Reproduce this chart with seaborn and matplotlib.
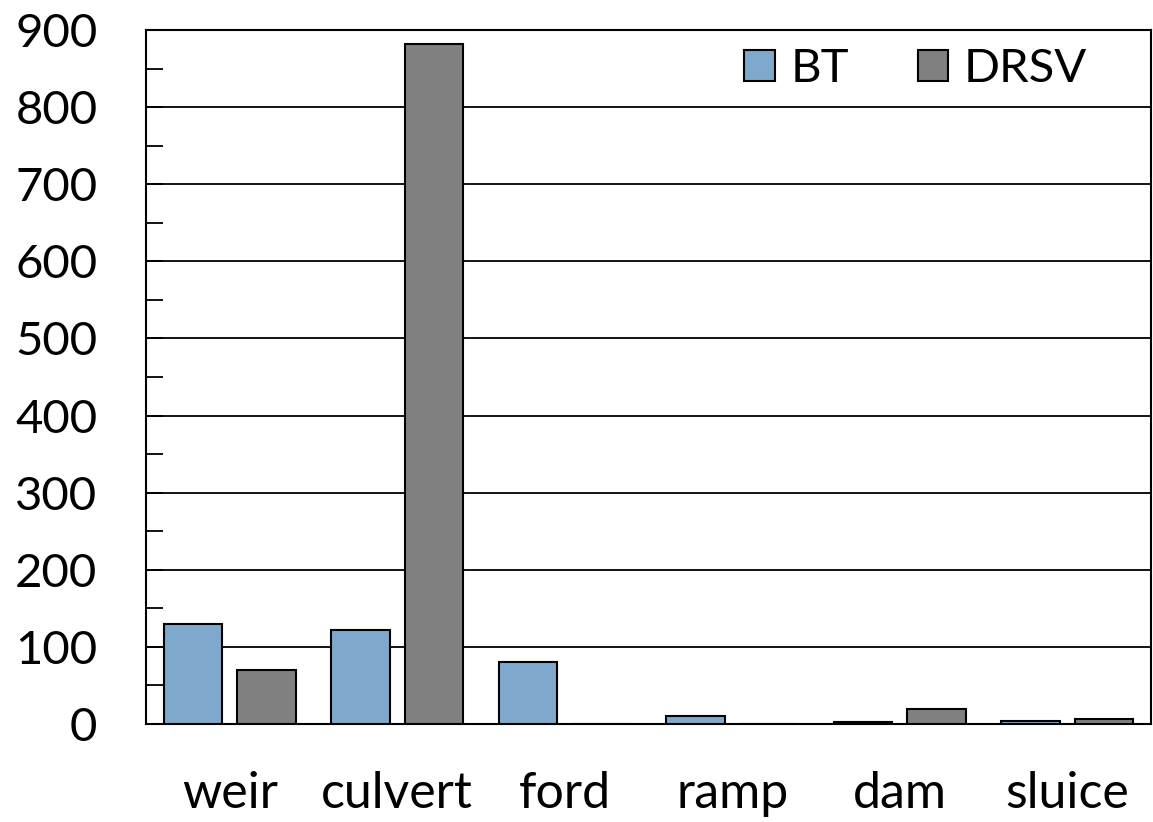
import matplotlib
matplotlib.use("Agg")
import matplotlib.pyplot as plt
import seaborn as sns
import pandas as pd
from matplotlib.ticker import MultipleLocator

categories = ["weir", "culvert", "ford", "ramp", "dam", "sluice"]
bt_values = [130, 122, 80, 10, 2, 3.5]
drsv_values = [70, 882, 0, 0, 20, 6]
series_names = ["BT", "DRSV"]
yticks = [0, 100, 200, 300, 400, 500, 600, 700, 800, 900]

df = pd.DataFrame({
    "category": categories * 2,
    "value": bt_values + drsv_values,
    "series": [series_names[0]] * len(categories) + [series_names[1]] * len(categories),
})

sns.set_style("white")
plt.rcParams['font.family'] = ['Lato', 'DejaVu Sans']
plt.rcParams['text.color'] = 'black'
plt.rcParams['xtick.color'] = 'black'
plt.rcParams['ytick.color'] = 'black'
plt.rcParams['xtick.labelcolor'] = 'black'
plt.rcParams['ytick.labelcolor'] = 'black'

fig = plt.figure(figsize=(11.53, 8.22), dpi=100)
ax = fig.add_axes([146/1153, 1 - 724/822, (1151-146)/1153, (724-30)/822])

palette = {"BT": "#7fa9cc", "DRSV": "#808080"}
sns.barplot(data=df, x="category", y="value", hue="series", order=categories,
            hue_order=series_names, palette=palette, width=0.88, gap=0.21,
            edgecolor="black", linewidth=1.5, saturation=1, ax=ax, zorder=3)

ax.set_ylim(0, 900)
ax.set_yticks(yticks)
ax.yaxis.set_minor_locator(MultipleLocator(50))
ax.yaxis.grid(True, which="major", color="black", linewidth=1.3, zorder=0)
ax.set_axisbelow(True)
for s in ax.spines.values():
    s.set_visible(True)
    s.set_color("black")
    s.set_linewidth(1.5)
ax.tick_params(axis="y", which="major", direction="in", length=12, width=1.3,
               labelsize=34, pad=35, left=True, colors="black")
ax.tick_params(axis="y", which="minor", direction="in", length=12, width=1.3, left=True,
               colors="black")
ax.tick_params(axis="x", length=0, labelsize=36, pad=34, colors="black")
ax.set_xlabel("")
ax.set_ylabel("")

leg = ax.legend(loc="upper right", ncol=2, frameon=False, fontsize=34,
                bbox_to_anchor=(0.96, 1.008), handlelength=0.65, handleheight=0.65,
                handletextpad=0.33, columnspacing=1.45, borderaxespad=0.1)

fig.savefig("out.png", dpi=100)
